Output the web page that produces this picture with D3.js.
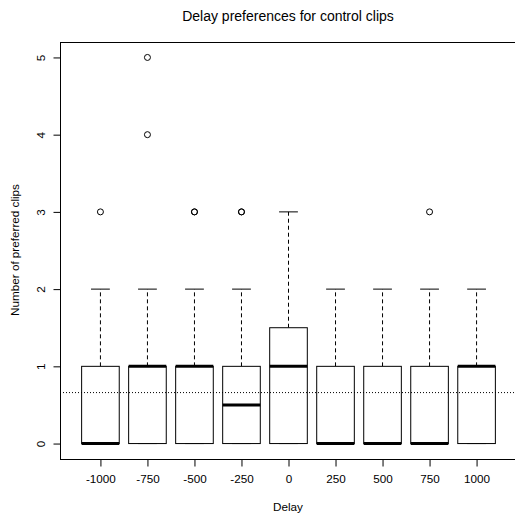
<!DOCTYPE html>
<html>
<head>
<meta charset="utf-8">
<script src="https://cdn.jsdelivr.net/npm/d3@7"></script>
<style>
  body { margin: 0; background: #fff; }
  svg { display: block; font-family: "Liberation Sans", Arial, Helvetica, sans-serif; }
</style>
</head>
<body>
<div id="chart"></div>
<script>
// box statistics, one entry per delay
const delays = ["-1000", "-750", "-500", "-250", "0", "250", "500", "750", "1000"];
const whiskerLow = [0, 0, 0, 0, 0, 0, 0, 0, 0];
const q1 = [0, 0, 0, 0, 0, 0, 0, 0, 0];
const medians = [0, 1, 1, 0.5, 1, 0, 0, 0, 1];
const q3 = [1, 1, 1, 1, 1.5, 1, 1, 1, 1];
const whiskerHigh = [2, 2, 2, 2, 3, 2, 2, 2, 2];
// repeated values are overplotted points (they look bolder)
const outliers = [[3], [4, 5], [3, 3], [3, 3], [], [], [], [3], []];
const yTicks = [0, 1, 2, 3, 4, 5];
const refLine = 0.66;

const W = 515, H = 516;

const svg = d3.select("#chart")
    .append("svg")
    .attr("width", W)
    .attr("height", H);

// R style: xlim 0.5..9.5 and ylim 0..5, each padded by 4%
let x = d3.scaleLinear().domain([0.14, 9.86]).range([60, 517]);
let y = d3.scaleLinear().domain([-0.2, 5.2]).range([459, 42]);

const boxHalf = 0.4;   // box width 0.8 of a slot
const capHalf = 0.2;

let groups = svg.selectAll("g.box")
    .data(delays.map((d, i) => ({
        i: i + 1, lo: whiskerLow[i], q1: q1[i], med: medians[i],
        q3: q3[i], hi: whiskerHigh[i], out: outliers[i]
    })))
    .enter()
    .append("g")
    .attr("class", "box");

// dashed whiskers
groups.append("line")
    .attr("x1", d => x(d.i)).attr("x2", d => x(d.i))
    .attr("y1", d => y(d.q3)).attr("y2", d => y(d.hi))
    .attr("stroke", "#000")
    .attr("stroke-dasharray", "4,3");
groups.append("line")
    .attr("x1", d => x(d.i)).attr("x2", d => x(d.i))
    .attr("y1", d => y(d.q1)).attr("y2", d => y(d.lo))
    .attr("stroke", "#000")
    .attr("stroke-dasharray", "4,3");

// staples
groups.append("line")
    .attr("x1", d => x(d.i - capHalf)).attr("x2", d => x(d.i + capHalf))
    .attr("y1", d => y(d.hi)).attr("y2", d => y(d.hi))
    .attr("stroke", "#000");
groups.append("line")
    .attr("x1", d => x(d.i - capHalf)).attr("x2", d => x(d.i + capHalf))
    .attr("y1", d => y(d.lo)).attr("y2", d => y(d.lo))
    .attr("stroke", "#000");

// boxes
groups.append("rect")
    .attr("x", d => x(d.i - boxHalf))
    .attr("width", d => x(d.i + boxHalf) - x(d.i - boxHalf))
    .attr("y", d => y(d.q3))
    .attr("height", d => y(d.q1) - y(d.q3))
    .attr("fill", "#fff")
    .attr("stroke", "#000");

// medians
groups.append("line")
    .attr("x1", d => x(d.i - boxHalf)).attr("x2", d => x(d.i + boxHalf))
    .attr("y1", d => y(d.med)).attr("y2", d => y(d.med))
    .attr("stroke", "#000")
    .attr("stroke-width", 3);

// outliers
groups.selectAll("circle")
    .data(d => d.out.map(v => ({ i: d.i, v: v })))
    .enter()
    .append("circle")
    .attr("cx", d => x(d.i))
    .attr("cy", d => y(d.v))
    .attr("r", 3)
    .attr("fill", "none")
    .attr("stroke", "#000");

// dotted reference line across the plot
svg.append("line")
    .attr("x1", x.range()[0]).attr("x2", x.range()[1])
    .attr("y1", y(refLine)).attr("y2", y(refLine))
    .attr("stroke", "#000")
    .attr("stroke-dasharray", "1,2");

// plot frame
svg.append("rect")
    .attr("x", 60.5).attr("y", 42.5)
    .attr("width", 517 - 60).attr("height", 459 - 42)
    .attr("fill", "none")
    .attr("stroke", "#000");

//x axis
let xAxis = svg.append("g")
    .attr("transform", "translate(0,459.5)")
    .call(d3.axisBottom(x)
        .tickValues(d3.range(1, delays.length + 1))
        .tickFormat(i => delays[i - 1])
        .tickSize(7)
        .tickPadding(8));
xAxis.select(".domain").attr("d", `M${x(1)},0H${x(delays.length)}`);
xAxis.selectAll("text").style("font-size", "11.7px").attr("fill", "#000");
xAxis.style("font-family", null);

//y axis with rotated labels
let yAxis = svg.append("g")
    .attr("transform", "translate(60.5,0)")
    .call(d3.axisLeft(y).tickValues(yTicks).tickSize(7).tickFormat(d3.format("d")));
yAxis.select(".domain").attr("d", `M0,${y(0)}V${y(5)}`);
yAxis.style("font-family", null);
yAxis.selectAll("text")
    .style("font-size", "11.7px")
    .attr("fill", "#000")
    .attr("x", null).attr("dy", null)
    .attr("text-anchor", "middle")
    .attr("transform", "translate(-16,0) rotate(-90)");

// titles
svg.append("text")
    .attr("x", 288).attr("y", 21)
    .attr("text-anchor", "middle")
    .style("font-size", "14px")
    .text("Delay preferences for control clips");

svg.append("text")
    .attr("x", 288).attr("y", 511)
    .attr("text-anchor", "middle")
    .style("font-size", "11.7px")
    .text("Delay");

svg.append("text")
    .attr("transform", "translate(19,250) rotate(-90)")
    .attr("text-anchor", "middle")
    .style("font-size", "11.7px")
    .text("Number of preferred clips");
</script>
</body>
</html>
